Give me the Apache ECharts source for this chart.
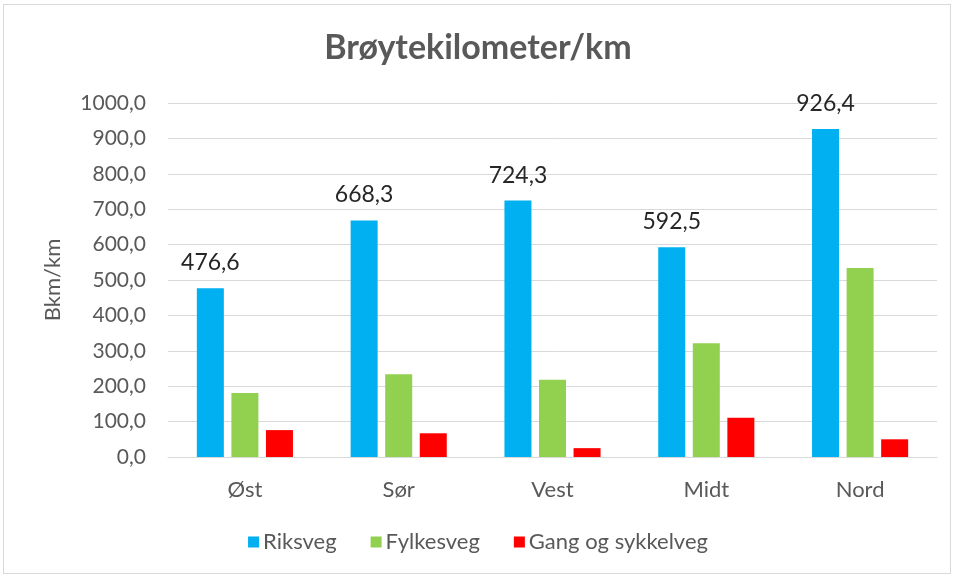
<!DOCTYPE html>
<html>
<head>
<meta charset="utf-8">
<script src="https://cdn.jsdelivr.net/npm/echarts@6/dist/echarts.min.js"></script>
<style>
  html, body { margin: 0; padding: 0; background: #fff; }
  #frame { position: absolute; left: 3px; top: 4px; width: 946px; height: 568px; border: 1px solid #d9d9d9; }
  #chart { position: absolute; left: 0; top: 0; width: 956px; height: 579px; }
</style>
</head>
<body>
<div id="frame"></div>
<div id="chart"></div>
<script>
const categories = ['Øst', 'Sør', 'Vest', 'Midt', 'Nord'];
const riksveg = [476.6, 668.3, 724.3, 592.5, 926.4];
const fylkesveg = [181, 234, 218, 321, 534];
const gangSykkel = [76, 67, 25, 111, 50];

const fmt = function (v) {
    return Number(v).toFixed(1).replace('.', ',');
};

const chart = echarts.init(document.getElementById('chart'));
const font = 'Lato, "Open Sans", sans-serif';

chart.setOption({
    animation: false,
    textStyle: { fontFamily: font },
    title: {
        text: 'Brøytekilometer/km',
        left: 'center',
        top: 26,
        textStyle: { fontFamily: font, fontSize: 34, fontWeight: 'bold', color: '#595959' }
    },
    grid: { left: 168, right: 19, top: 103, bottom: 122 },
    legend: {
        bottom: 21,
        left: 'center',
        itemWidth: 11,
        itemHeight: 11,
        itemGap: 34,
        icon: 'rect',
        textStyle: { fontFamily: font, fontSize: 22, color: '#595959', padding: [0, 0, 0, -1] },
        data: ['Riksveg', 'Fylkesveg', 'Gang og sykkelveg']
    },
    xAxis: {
        type: 'category',
        data: categories,
        axisTick: { show: false },
        axisLine: { lineStyle: { color: '#d9d9d9', width: 1 } },
        axisLabel: { fontFamily: font, fontSize: 22, color: '#595959', margin: 22 }
    },
    yAxis: {
        type: 'value',
        min: 0,
        max: 1000,
        interval: 100,
        name: 'Bkm/km',
        nameLocation: 'middle',
        nameRotate: 90,
        nameGap: 104,
        nameTextStyle: { fontFamily: font, fontSize: 22, color: '#595959' },
        axisLabel: { fontFamily: font, fontSize: 21, color: '#595959', margin: 22, formatter: fmt },
        splitLine: { lineStyle: { color: '#d9d9d9', width: 1 } }
    },
    series: [
        {
            name: 'Riksveg',
            type: 'bar',
            data: riksveg,
            barWidth: 27,
            barGap: '28%',
            itemStyle: { color: '#00b0f0' },
            label: {
                show: true,
                position: 'top',
                distance: 14,
                fontFamily: font,
                fontSize: 23,
                color: '#262626',
                formatter: p => fmt(p.value)
            }
        },
        {
            name: 'Fylkesveg',
            type: 'bar',
            data: fylkesveg,
            barWidth: 27,
            barGap: '28%',
            itemStyle: { color: '#92d050' }
        },
        {
            name: 'Gang og sykkelveg',
            type: 'bar',
            data: gangSykkel,
            barWidth: 27,
            barGap: '28%',
            itemStyle: { color: '#ff0000' }
        }
    ]
});
</script>
</body>
</html>
